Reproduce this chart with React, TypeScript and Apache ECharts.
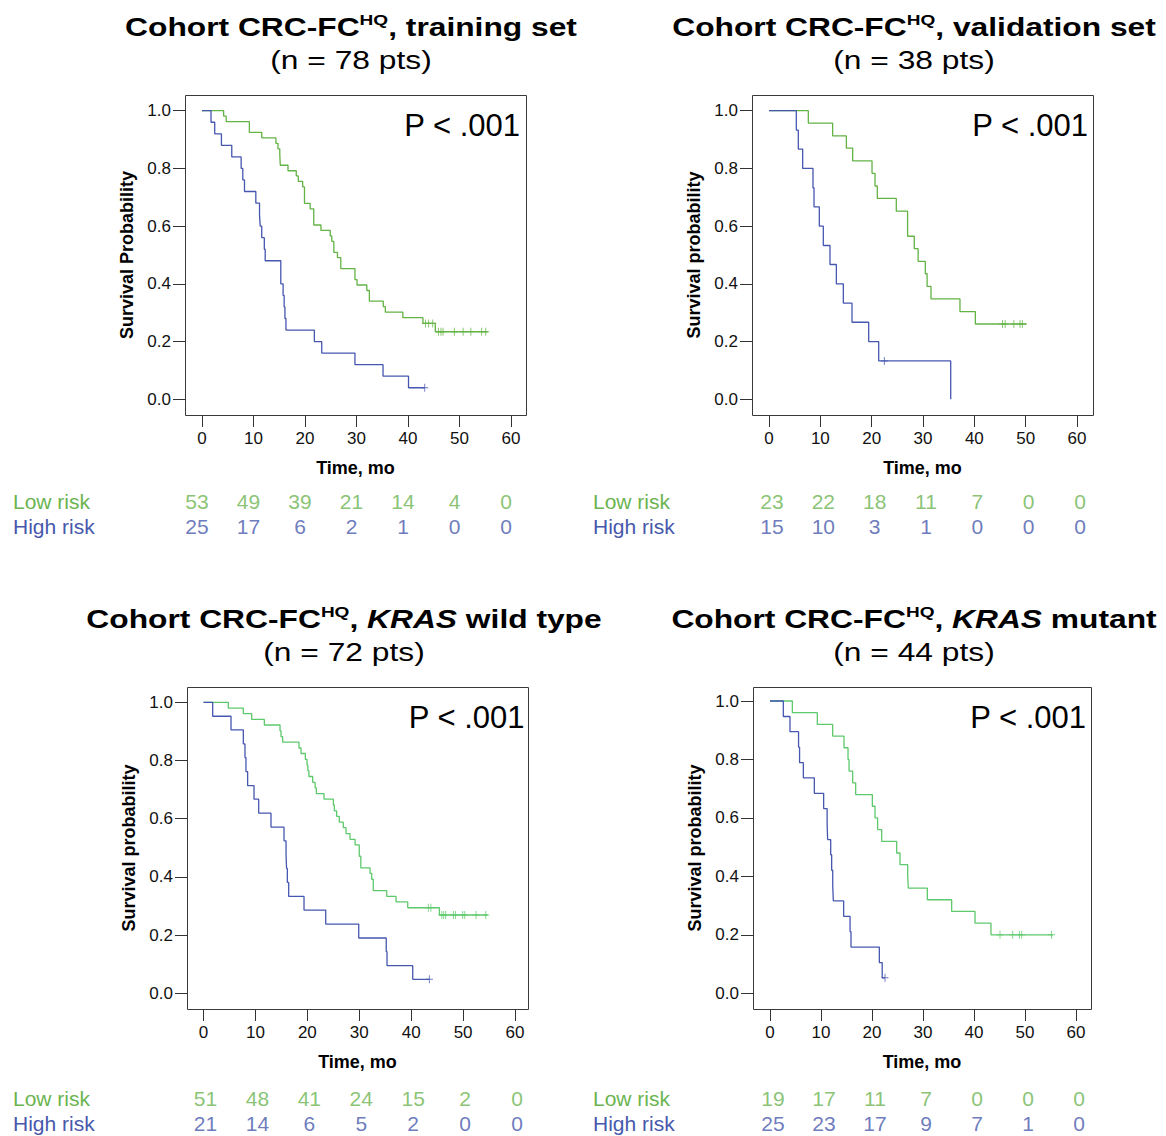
import React, { useEffect, useRef } from "react";
import * as echarts from "echarts";

const FONT = "'Liberation Sans', Arial, Helvetica, sans-serif";

// ---------- shared axis values ----------
const timeTicks = [0, 10, 20, 30, 40, 50, 60];
const survTicks = [0, 0.2, 0.4, 0.6, 0.8, 1.0];
const riskLabels = ["Low risk", "High risk"];

// ---------- Panel 1: training set ----------
const trainLow = [[0, 1], [4.2, 0.981], [4.7, 0.962], [9.2, 0.925], [11.6, 0.906], [14.35, 0.887], [14.75, 0.868], [15.1, 0.849], [15.2, 0.811], [16.7, 0.792], [18.3, 0.774], [18.7, 0.755], [19.55, 0.736], [19.9, 0.679], [21.0, 0.66], [21.7, 0.604], [23.1, 0.585], [24.9, 0.566], [25.2, 0.547], [25.6, 0.509], [26.3, 0.491], [26.95, 0.453], [29.7, 0.415], [30.1, 0.396], [32.0, 0.377], [32.5, 0.34], [35.2, 0.321], [35.6, 0.302], [39.0, 0.283], [42.9, 0.263], [45.3, 0.234], [55.5, 0.234]];
const trainLowCens = [[43.4, 0.263], [44.0, 0.263], [44.8, 0.263], [45.9, 0.234], [46.4, 0.234], [46.8, 0.234], [49.0, 0.234], [50.7, 0.234], [52.2, 0.234], [54.3, 0.234], [55.1, 0.234]];
const trainHigh = [[0, 1], [1.75, 0.96], [2.47, 0.92], [3.77, 0.88], [5.78, 0.84], [7.6, 0.8], [7.92, 0.76], [8.25, 0.72], [10.45, 0.68], [11.17, 0.64], [11.3, 0.6], [11.6, 0.56], [12.1, 0.52], [12.27, 0.48], [15.3, 0.4], [15.75, 0.36], [15.95, 0.32], [16.1, 0.28], [16.3, 0.24], [21.82, 0.2], [23.25, 0.16], [29.7, 0.12], [35.15, 0.08], [40.1, 0.04], [43.25, 0.04]];
const trainHighCens = [[43.25, 0.04]];
const trainLowAtRisk = [53, 49, 39, 21, 14, 4, 0];
const trainHighAtRisk = [25, 17, 6, 2, 1, 0, 0];

// ---------- Panel 2: validation set ----------
const validLow = [[0, 1], [7.66, 0.957], [12.4, 0.913], [15.07, 0.87], [16.3, 0.826], [20.07, 0.783], [20.65, 0.739], [21.1, 0.696], [24.8, 0.652], [27.0, 0.565], [28.3, 0.522], [29.05, 0.478], [30.45, 0.435], [30.8, 0.391], [31.56, 0.348], [37.2, 0.304], [40.2, 0.261], [50.2, 0.261]];
const validLowCens = [[45.5, 0.261], [46.0, 0.261], [47.7, 0.261], [48.9, 0.261], [49.35, 0.261]];
const validHigh = [[0, 1], [5.32, 0.933], [5.71, 0.867], [6.56, 0.8], [8.57, 0.733], [8.77, 0.667], [9.8, 0.6], [10.58, 0.533], [11.88, 0.467], [13.12, 0.4], [14.48, 0.333], [16.17, 0.267], [19.42, 0.2], [21.37, 0.133], [35.4, 0]];
const validHighCens = [[22.47, 0.133]];
const validLowAtRisk = [23, 22, 18, 11, 7, 0, 0];
const validHighAtRisk = [15, 10, 3, 1, 0, 0, 0];

// ---------- Panel 3: KRAS wild type ----------
const wildLow = [[0, 1], [4.78, 0.98], [7.67, 0.961], [9.28, 0.941], [11.72, 0.922], [14.74, 0.902], [14.93, 0.882], [15.25, 0.863], [18.4, 0.843], [18.79, 0.824], [19.62, 0.804], [19.94, 0.784], [20.1, 0.765], [20.3, 0.745], [21.03, 0.725], [21.5, 0.706], [21.74, 0.686], [23.22, 0.667], [25.02, 0.647], [25.2, 0.627], [25.65, 0.608], [26.16, 0.588], [26.93, 0.569], [27.45, 0.549], [28.22, 0.529], [29.2, 0.51], [30.0, 0.471], [30.3, 0.431], [32.08, 0.412], [32.4, 0.392], [32.7, 0.353], [35.29, 0.333], [37.09, 0.314], [39.34, 0.294], [45.44, 0.269], [54.75, 0.269]];
const wildLowCens = [[43.3, 0.294], [43.8, 0.294], [45.9, 0.269], [46.27, 0.269], [46.65, 0.269], [48.14, 0.269], [48.52, 0.269], [49.93, 0.269], [50.32, 0.269], [52.5, 0.269], [54.37, 0.269]];
const wildHigh = [[0, 1], [1.77, 0.952], [5.3, 0.905], [7.67, 0.857], [7.99, 0.81], [8.18, 0.762], [8.5, 0.714], [9.73, 0.667], [10.63, 0.619], [13.0, 0.571], [15.51, 0.524], [15.9, 0.476], [16.0, 0.429], [16.15, 0.381], [16.41, 0.333], [19.36, 0.286], [23.54, 0.238], [29.9, 0.19], [35.2, 0.143], [35.35, 0.095], [40.3, 0.048], [43.5, 0.048]];
const wildHighCens = [[43.5, 0.048]];
const wildLowAtRisk = [51, 48, 41, 24, 15, 2, 0];
const wildHighAtRisk = [21, 14, 6, 5, 2, 0, 0];

// ---------- Panel 4: KRAS mutant ----------
const mutLow = [[0, 1], [4.38, 0.96], [9.28, 0.92], [12.29, 0.88], [14.51, 0.84], [15.3, 0.8], [15.5, 0.76], [16.21, 0.72], [16.8, 0.68], [20.07, 0.64], [20.59, 0.6], [21.1, 0.56], [21.9, 0.52], [24.84, 0.48], [25.49, 0.44], [27.0, 0.4], [27.12, 0.36], [30.85, 0.32], [35.62, 0.28], [40.2, 0.24], [43.33, 0.2], [55.5, 0.2]];
const mutLowCens = [[45.1, 0.2], [47.58, 0.2], [48.9, 0.2], [49.35, 0.2], [55.2, 0.2]];
const mutHigh = [[0, 1], [2.61, 0.947], [3.92, 0.895], [5.6, 0.842], [5.8, 0.789], [6.54, 0.737], [8.69, 0.684], [10.52, 0.632], [11.2, 0.579], [11.3, 0.526], [11.9, 0.474], [12.09, 0.421], [12.3, 0.368], [12.42, 0.316], [14.44, 0.263], [15.7, 0.211], [15.88, 0.158], [21.44, 0.105], [22.0, 0.053], [22.55, 0.053]];
const mutHighCens = [[22.55, 0.053]];
const mutLowAtRisk = [19, 17, 11, 7, 0, 0, 0];
const mutHighAtRisk = [25, 23, 17, 9, 7, 1, 0];

// ---------- texts ----------
const titleLines = [
  "{b|Cohort CRC-FC}{s|HQ}{b|, training set}",
  "{b|Cohort CRC-FC}{s|HQ}{b|, validation set}",
  "{b|Cohort CRC-FC}{s|HQ}{b|, }{bi|KRAS}{b| wild type}",
  "{b|Cohort CRC-FC}{s|HQ}{b|, }{bi|KRAS}{b| mutant}",
];
const subtitleLines = ["(n = 78 pts)", "(n = 38 pts)", "(n = 72 pts)", "(n = 44 pts)"];
const yAxisNames = ["Survival Probability", "Survival probability", "Survival probability", "Survival probability"];
const pValueText = "P < .001";
const xAxisName = "Time, mo";

const panels = [
  { low: trainLow, lowCens: trainLowCens, high: trainHigh, highCens: trainHighCens, lowRisk: trainLowAtRisk, highRisk: trainHighAtRisk },
  { low: validLow, lowCens: validLowCens, high: validHigh, highCens: validHighCens, lowRisk: validLowAtRisk, highRisk: validHighAtRisk },
  { low: wildLow, lowCens: wildLowCens, high: wildHigh, highCens: wildHighCens, lowRisk: wildLowAtRisk, highRisk: wildHighAtRisk },
  { low: mutLow, lowCens: mutLowCens, high: mutHigh, highCens: mutHighCens, lowRisk: mutLowAtRisk, highRisk: mutHighAtRisk },
];

// ---------- layout / style (pixels) ----------
// fl/ft/fr/fb: plot frame; x0/x60: pixel of 0 and 60 months; y1/y0: pixel of survival 1 and 0
const layouts = [
  { fl: 185, ft: 95, fr: 526, fb: 415, x0: 202, x60: 511, y1: 110.7, y0: 399.3, tx: 351, ty1: 27, ty2: 60, px: 520, py: 125, tableTop: 488.5, labelX: 13, numDx: -5, green: "#63b345" },
  { fl: 752, ft: 95, fr: 1093, fb: 415, x0: 769, x60: 1077, y1: 110.7, y0: 399.3, tx: 914, ty1: 27, ty2: 60, px: 1088, py: 125, tableTop: 488.5, labelX: 593, numDx: 3, green: "#63b345" },
  { fl: 187, ft: 687, fr: 528, fb: 1009, x0: 203.5, x60: 515, y1: 702.3, y0: 993.3, tx: 344, ty1: 619, ty2: 652, px: 524.5, py: 717.5, tableTop: 1085.5, labelX: 13, numDx: 2, green: "#5ec96c" },
  { fl: 753, ft: 687, fr: 1091, fb: 1009, x0: 770, x60: 1076, y1: 701, y0: 993.3, tx: 914, ty1: 619, ty2: 652, px: 1086, py: 717.5, tableTop: 1085.5, labelX: 593, numDx: 3, green: "#5ec96c" },
];
const BLUE = "#4657b0";
const GREEN_TEXT = "#6bb450";
const BLUE_TEXT = "#4759ac";
const TITLE_SCALE_X = 1.27;

function buildOption() {
  const grid: any[] = [];
  const xAxis: any[] = [];
  const yAxis: any[] = [];
  const series: any[] = [];
  const graphic: any[] = [];

  const titleRich = {
    b: { fontSize: 25, fontWeight: "bold", fontFamily: FONT, fill: "#000", lineHeight: 30 },
    bi: { fontSize: 25, fontWeight: "bold", fontStyle: "italic", fontFamily: FONT, fill: "#000", lineHeight: 30 },
    s: { fontSize: 15, fontWeight: "bold", fontFamily: FONT, fill: "#000", lineHeight: 14, verticalAlign: "top" },
  };

  panels.forEach((p, i) => {
    const L = layouts[i];
    const pxPerMonth = (L.x60 - L.x0) / 60;
    const pxPerUnit = L.y0 - L.y1;
    const xMin = (L.fl - L.x0) / pxPerMonth;
    const xMax = (L.fr - L.x0) / pxPerMonth;
    const yMin = (L.y0 - L.fb) / pxPerUnit;
    const yMax = (L.y0 - L.ft) / pxPerUnit;

    // plot grid = frame
    grid.push({ left: L.fl, top: L.ft, width: L.fr - L.fl, height: L.fb - L.ft });
    xAxis.push({
      gridIndex: i,
      type: "value",
      position: "bottom",
      min: xMin,
      max: xMax,
      axisLine: { show: false, onZero: false },
      axisTick: { show: true, inside: false, length: 12, customValues: timeTicks, lineStyle: { color: "#333", width: 1 } },
      axisLabel: { fontSize: 17, color: "#111", margin: 15, fontFamily: FONT, customValues: timeTicks },
      splitLine: { show: false },
      name: xAxisName,
      nameLocation: "middle",
      nameGap: 44,
      nameTextStyle: { fontSize: 18, fontWeight: "bold", color: "#000", fontFamily: FONT },
    });
    yAxis.push({
      gridIndex: i,
      type: "value",
      position: "left",
      min: yMin,
      max: yMax,
      axisLine: { show: false, onZero: false },
      axisTick: { show: true, inside: false, length: 12, customValues: survTicks, lineStyle: { color: "#333", width: 1 } },
      axisLabel: {
        fontSize: 17,
        color: "#111",
        margin: 14,
        fontFamily: FONT,
        customValues: survTicks,
        formatter: (v: number) => v.toFixed(1),
      },
      splitLine: { show: false },
      name: yAxisNames[i],
      nameLocation: "middle",
      nameGap: 49,
      nameTextStyle: { fontSize: 18, fontWeight: "bold", color: "#000", fontFamily: FONT },
    });

    const lineBase = { type: "line", xAxisIndex: i, yAxisIndex: i, step: "end", showSymbol: false, symbol: "none", clip: false, silent: true, z: 3 };
    series.push({ ...lineBase, name: `low${i}`, data: p.low, lineStyle: { color: L.green, width: 1.3 } });
    series.push({ ...lineBase, name: `high${i}`, data: p.high, lineStyle: { color: BLUE, width: 1.3 } });
    const censBase = { type: "scatter", xAxisIndex: i, yAxisIndex: i, symbol: "path://M5,0L5,10M0,5L10,5", symbolSize: [7, 8], clip: false, silent: true, z: 4 };
    series.push({ ...censBase, data: p.lowCens, itemStyle: { color: "none", borderColor: L.green, borderWidth: 1 } });
    series.push({ ...censBase, data: p.highCens, itemStyle: { color: "none", borderColor: BLUE, borderWidth: 1 } });

    // frame
    graphic.push({
      type: "rect",
      silent: true,
      z: 10,
      shape: { x: L.fl + 0.5, y: L.ft + 0.5, width: L.fr - L.fl, height: L.fb - L.ft },
      style: { fill: "none", stroke: "#3a3a3a", lineWidth: 1 },
    });
    // p value
    graphic.push({
      type: "text",
      x: L.px,
      y: L.py,
      silent: true,
      style: { text: pValueText, fontSize: 31, fontFamily: FONT, fill: "#000", align: "right", verticalAlign: "middle" },
    });
    // titles
    graphic.push({
      type: "text",
      x: L.tx,
      y: L.ty1,
      scaleX: TITLE_SCALE_X,
      silent: true,
      style: { text: titleLines[i], align: "center", verticalAlign: "middle", fill: "#000", fontFamily: FONT, rich: titleRich },
    });
    graphic.push({
      type: "text",
      x: L.tx,
      y: L.ty2,
      scaleX: TITLE_SCALE_X,
      silent: true,
      style: { text: subtitleLines[i], fontSize: 25, fontFamily: FONT, fill: "#000", align: "center", verticalAlign: "middle" },
    });
  });

  // risk tables
  panels.forEach((p, i) => {
    const L = layouts[i];
    const gi = 4 + i;
    grid.push({ left: L.x0, top: L.tableTop, width: L.x60 - L.x0, height: 50 });
    xAxis.push({ gridIndex: gi, type: "value", min: 0, max: 60, show: false });
    yAxis.push({
      gridIndex: gi,
      type: "category",
      data: riskLabels,
      inverse: true,
      axisLine: { show: false, onZero: false },
      axisTick: { show: false },
      splitLine: { show: false },
      axisLabel: {
        interval: 0,
        hideOverlap: false,
        align: "left",
        margin: L.x0 - L.labelX,
        fontSize: 21,
        fontFamily: FONT,
        color: (v: string) => (v === riskLabels[0] ? GREEN_TEXT : BLUE_TEXT),
      },
    });
    const rows = [p.lowRisk, p.highRisk];
    rows.forEach((vals, r) => {
      series.push({
        type: "scatter",
        xAxisIndex: gi,
        yAxisIndex: gi,
        symbolSize: 1,
        silent: true,
        itemStyle: { color: "rgba(0,0,0,0)" },
        data: timeTicks.map((t, k) => [t, r, vals[k]]),
        label: {
          show: true,
          position: "inside",
          offset: [L.numDx, 0],
          formatter: (prm: any) => String(prm.value[2]),
          fontSize: 21,
          fontFamily: FONT,
          color: r === 0 ? GREEN_TEXT : BLUE_TEXT,
        },
      });
    });
  });

  return {
    animation: false,
    backgroundColor: "#ffffff",
    textStyle: { fontFamily: FONT },
    grid,
    xAxis,
    yAxis,
    series,
    graphic,
  };
}

export default function App() {
  const ref = useRef<HTMLDivElement>(null);
  useEffect(() => {
    if (!ref.current) return;
    const chart = echarts.init(ref.current, null, { renderer: "svg" });
    chart.setOption(buildOption() as any);
    return () => chart.dispose();
  }, []);
  return (
    <div
      ref={ref}
      style={{ position: "absolute", left: 0, top: 0, width: 1166, height: 1136, background: "#fff" }}
    />
  );
}
